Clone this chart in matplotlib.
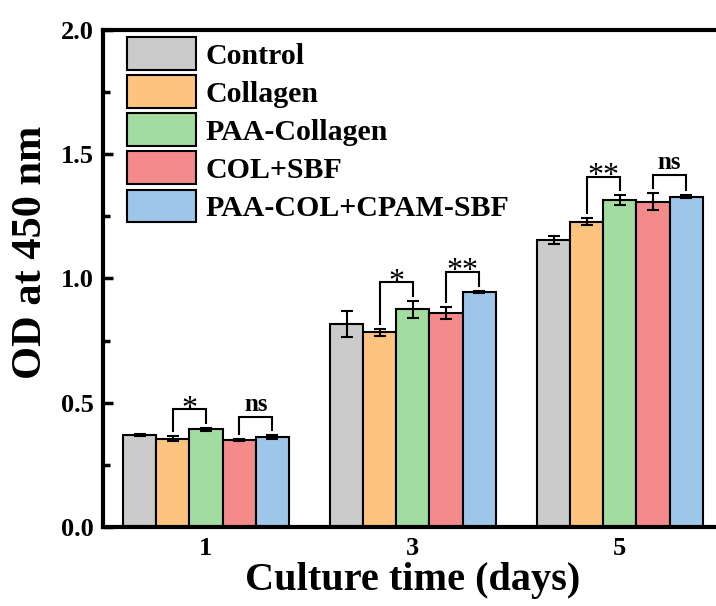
import numpy as np
import matplotlib.pyplot as plt
from matplotlib.ticker import MultipleLocator

plt.rcParams['font.family'] = ['Liberation Serif', 'DejaVu Serif']
plt.rcParams['font.weight'] = 'bold'

# data
days = ['1', '3', '5']
groups = ['Control', 'Collagen', 'PAA-Collagen', 'COL+SBF', 'PAA-COL+CPAM-SBF']
control = [0.370, 0.817, 1.155]
control_err = [0.005, 0.052, 0.015]
collagen = [0.356, 0.783, 1.229]
collagen_err = [0.011, 0.015, 0.014]
paa_collagen = [0.393, 0.876, 1.316]
paa_collagen_err = [0.005, 0.034, 0.019]
col_sbf = [0.350, 0.860, 1.309]
col_sbf_err = [0.004, 0.025, 0.034]
paa_col_cpam = [0.361, 0.947, 1.329]
paa_col_cpam_err = [0.008, 0.004, 0.006]

# significance marks: (day index, bar a, bar b, label)
signif = [(0, 1, 2, '*'), (0, 3, 4, 'ns'),
          (1, 1, 2, '*'), (1, 3, 4, '**'),
          (2, 1, 2, '**'), (2, 3, 4, 'ns')]

colors = ['#cbcbcb', '#fec47f', '#a3dca0', '#f58a8b', '#9dc6e8']

values = [control, collagen, paa_collagen, col_sbf, paa_col_cpam]
errors = [control_err, collagen_err, paa_collagen_err, col_sbf_err, paa_col_cpam_err]

fig = plt.figure(figsize=(7.16, 6.06), dpi=100)
ax = fig.add_axes([0.1432, 0.1304, 0.867, 0.8201])

x = np.arange(len(days))
w = 0.16
for i in range(len(groups)):
    xi = x + (i - 2) * w
    ax.bar(xi, values[i], w, color=colors[i], edgecolor='black', linewidth=1.5,
           label=groups[i], zorder=2)
    ax.errorbar(xi, values[i], yerr=errors[i], fmt='none', ecolor='black',
                elinewidth=1.5, capsize=4, capthick=1.5, zorder=3)

for d, a, b, lab in signif:
    xa = x[d] + (a - 2) * w
    xb = x[d] + (b - 2) * w
    ta = values[a][d] + errors[a][d]
    tb = values[b][d] + errors[b][d]
    h = max(ta, tb) + 0.075
    ax.plot([xa, xa, xb, xb], [ta + 0.02, h, h, tb + 0.02], color='black',
            lw=1.5, zorder=3, solid_joinstyle='miter')
    if lab == 'ns':
        ax.text((xa + xb) / 2, h + 0.022, lab, ha='center', va='baseline',
                fontsize=18, fontweight='bold')
    else:
        ax.text((xa + xb) / 2, h - 0.03, lab, ha='center', va='baseline',
                fontsize=23, fontweight='normal')

ax.set_xlim(-0.5, 2.5)
ax.set_ylim(0, 2.0)
ax.set_xticks(x)
ax.set_xticklabels(days)
ax.yaxis.set_major_locator(MultipleLocator(0.5))
ax.yaxis.set_minor_locator(MultipleLocator(0.25))
ax.tick_params(axis='y', which='major', direction='in', length=7, width=2.5,
               labelsize=19, pad=6)
ax.tick_params(axis='y', which='minor', direction='in', length=5, width=2.5)
ax.tick_params(axis='x', length=0, labelsize=19, pad=7)
for lbl in ax.get_xticklabels() + ax.get_yticklabels():
    lbl.set_fontweight('bold')

for s in ax.spines.values():
    s.set_linewidth(3)

ax.set_xlabel('Culture time (days)', fontsize=29, fontweight='bold', labelpad=2)
ax.set_ylabel('OD at 450 nm', fontsize=30.5, fontweight='bold')
ax.yaxis.set_label_coords(-0.085, 0.553)

ax.legend(loc='upper left', bbox_to_anchor=(0.04, 0.985), frameon=False,
          fontsize=21.5, handlelength=2.3, handleheight=1.32, labelspacing=0.17,
          handletextpad=0.3, borderpad=0, borderaxespad=0)

fig.savefig('out.png', dpi=100)
